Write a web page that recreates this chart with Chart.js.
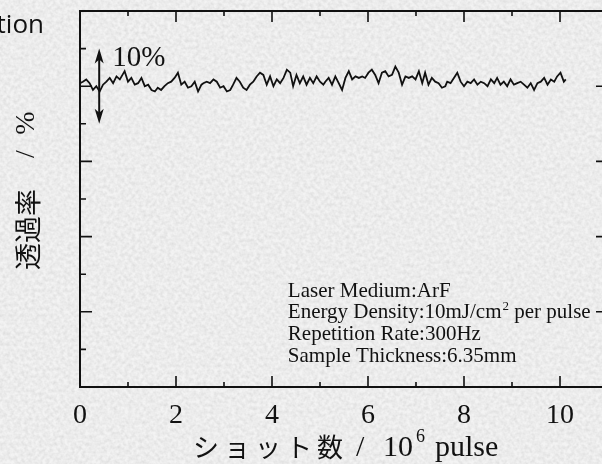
<!DOCTYPE html>
<html>
<head>
<meta charset="utf-8">
<script src="https://cdn.jsdelivr.net/npm/chart.js@4.4.1/dist/chart.umd.min.js"></script>
<style>
  html, body { margin: 0; padding: 0; overflow: hidden; width: 602px; height: 464px; }
  body {
    background-color: #e4e4e4;
    background-image: url("data:image/svg+xml;utf8,<svg xmlns='http://www.w3.org/2000/svg' width='602' height='464'><filter id='n'><feTurbulence type='fractalNoise' baseFrequency='0.28' numOctaves='2' seed='7'/><feColorMatrix values='0.5 0 0 0 0.64 0.5 0 0 0 0.64 0.5 0 0 0 0.64 0 0 0 0 0.55'/></filter><rect width='100%' height='100%' filter='url(%23n)'/></svg>");
  }
  #wrap { position: relative; width: 612px; height: 464px; }
</style>
</head>
<body>
<div id="wrap"><canvas id="chart"></canvas></div>
<script>
// shots (10^6 pulse) and transmission (%)
const shots = [
  0.00, 0.06, 0.13, 0.20, 0.27, 0.34, 0.41, 0.48, 0.55, 0.62, 0.69, 0.76, 0.83, 0.93, 1.00, 1.07, 1.14, 1.21, 1.28,
  1.35, 1.42, 1.49, 1.56, 1.62, 1.69, 1.76, 1.83, 1.90, 1.97, 2.04, 2.11, 2.18, 2.25, 2.32, 2.39, 2.46, 2.53,
  2.57, 2.64, 2.71, 2.78, 2.85, 2.92, 2.99, 3.06, 3.13, 3.19, 3.26, 3.33, 3.40, 3.47, 3.54, 3.61, 3.68, 3.75, 3.82,
  3.89, 3.96, 4.03, 4.10, 4.17, 4.24, 4.31, 4.38, 4.44, 4.51, 4.58, 4.65, 4.72, 4.79, 4.86, 4.93, 5.00, 5.07,
  5.11, 5.18, 5.25, 5.32, 5.39, 5.46, 5.53, 5.60, 5.67, 5.74, 5.81, 5.88, 5.94, 6.01, 6.08, 6.15, 6.22, 6.29, 6.36,
  6.43, 6.50, 6.57, 6.64, 6.71, 6.78, 6.85, 6.92, 6.99, 7.06, 7.13, 7.19, 7.26, 7.33, 7.40, 7.47, 7.54, 7.61,
  7.65, 7.72, 7.79, 7.86, 7.93, 8.00, 8.07, 8.14, 8.21, 8.28, 8.35, 8.42, 8.49, 8.56, 8.63, 8.69, 8.76, 8.83, 8.90,
  8.97, 9.04, 9.11, 9.18, 9.25, 9.32, 9.39, 9.46, 9.53, 9.60, 9.67, 9.74, 9.81, 9.88, 9.94, 10.01, 10.08, 10.12
];
const transmission = [
  90.4, 90.6, 90.9, 90.4, 89.5, 90.0, 89.3, 90.2, 90.6, 91.1, 90.4, 91.3, 90.9, 92.0, 90.6, 91.1, 90.2, 90.4, 91.1,
  90.0, 90.2, 89.5, 89.3, 89.8, 89.5, 90.0, 90.4, 90.6, 91.1, 91.8, 90.2, 90.6, 89.8, 90.0, 90.6, 89.3, 90.2,
  90.4, 90.6, 90.4, 90.9, 90.6, 89.8, 90.0, 89.3, 89.5, 90.2, 91.1, 90.6, 89.8, 89.5, 90.2, 90.6, 91.3, 91.8, 91.5,
  90.2, 91.3, 90.0, 90.9, 90.4, 91.1, 92.2, 91.8, 90.0, 91.5, 90.4, 91.3, 90.2, 91.1, 90.4, 91.3, 90.6, 90.2,
  90.6, 91.1, 90.2, 91.3, 90.4, 89.5, 91.1, 92.0, 90.9, 91.3, 91.1, 91.3, 91.1, 91.8, 92.2, 91.5, 90.4, 91.8, 92.0,
  91.3, 91.5, 92.6, 91.8, 90.2, 91.3, 91.1, 91.3, 90.9, 92.0, 90.4, 91.8, 90.2, 91.1, 90.6, 90.4, 89.8, 90.0,
  90.6, 90.4, 91.1, 91.8, 90.6, 90.0, 90.6, 90.4, 90.9, 90.2, 90.6, 90.4, 90.0, 90.9, 90.4, 91.1, 90.2, 90.6, 90.0,
  90.9, 90.2, 90.4, 90.6, 90.2, 89.8, 90.4, 89.5, 90.4, 90.6, 91.1, 90.2, 90.9, 90.6, 91.3, 91.8, 90.6, 90.9
];

const xLabelTicks = [0, 2, 4, 6, 8, 10];
const xMinorTicks = [1, 3, 5, 7, 9];
const yMajorTicks = [60, 70, 80, 90];
const yMinorTicks = [55, 65, 75, 85, 95];
const arrowSpan = [85, 95];   // the "10%" marker
const arrowAt = 0.4;

const conditions = ['Laser Medium:ArF', 'Energy Density:10mJ/cm', 'Repetition Rate:300Hz', 'Sample Thickness:6.35mm'];

const serif = '"Liberation Serif", "Times New Roman", "Noto Sans CJK JP", serif';
const ink = '#111';

const framePlugin = {
  id: 'frame',
  afterDraw(chart) {
    const { ctx, chartArea: a, scales: { x, y } } = chart;
    ctx.save();
    ctx.strokeStyle = ink;
    ctx.fillStyle = ink;

    // box
    ctx.lineWidth = 2;
    ctx.strokeRect(a.left, a.top, a.right - a.left, a.bottom - a.top);

    // inward ticks
    ctx.lineWidth = 1.6;
    ctx.beginPath();
    const xt = (list, len) => list.forEach(v => {
      const px = x.getPixelForValue(v);
      ctx.moveTo(px, a.bottom); ctx.lineTo(px, a.bottom - len);
      ctx.moveTo(px, a.top); ctx.lineTo(px, a.top + len);
    });
    xt(xLabelTicks, 11);
    xt(xMinorTicks, 5);
    const yt = (list, len) => list.forEach(v => {
      const py = y.getPixelForValue(v);
      ctx.moveTo(a.left, py); ctx.lineTo(a.left + len, py);
      ctx.moveTo(a.right, py); ctx.lineTo(a.right - len, py);
    });
    yt(yMajorTicks, 12);
    yt(yMinorTicks, 6);
    ctx.stroke();

    // double arrow for 10%
    const ax = x.getPixelForValue(arrowAt);
    const ay1 = y.getPixelForValue(arrowSpan[1]);
    const ay0 = y.getPixelForValue(arrowSpan[0]);
    ctx.lineWidth = 2;
    ctx.beginPath();
    ctx.moveTo(ax, ay1 + 6); ctx.lineTo(ax, ay0 - 6);
    ctx.stroke();
    const head = (tipY, dir) => {
      ctx.beginPath();
      ctx.moveTo(ax, tipY);
      ctx.lineTo(ax - 4.5, tipY + dir * 15);
      ctx.lineTo(ax, tipY + dir * 11);
      ctx.lineTo(ax + 4.5, tipY + dir * 15);
      ctx.closePath();
      ctx.fill();
    };
    head(ay1, 1);
    head(ay0, -1);

    ctx.font = '29px ' + serif;
    ctx.textBaseline = 'alphabetic';
    ctx.textAlign = 'left';
    ctx.fillText('10%', x.getPixelForValue(0.67), y.getPixelForValue(92.7));

    // measurement conditions
    const tx = x.getPixelForValue(4.33);
    const ty = y.getPixelForValue(62);
    conditions.forEach((line, i) => {
      const by = ty + i * 21.7;
      ctx.font = '21px ' + serif;
      ctx.fillText(line, tx, by);
      if (i === 1) {
        let w = ctx.measureText(line).width;
        ctx.font = '13px ' + serif;
        ctx.fillText('2', tx + w + 1, by - 8);
        w += ctx.measureText('2').width + 1;
        ctx.font = '21px ' + serif;
        ctx.fillText(' per pulse', tx + w, by);
      }
    });

    // y title
    ctx.save();
    ctx.translate(27, 270);
    ctx.rotate(-Math.PI / 2);
    ctx.textBaseline = 'middle';
    ctx.font = '27px "Noto Sans CJK JP", sans-serif';
    ctx.fillText('透過率', 0, 1);
    ctx.font = '28px ' + serif;
    ctx.textAlign = 'center';
    ctx.fillText('/', 116, 0);
    ctx.fillText('%', 147, 0);
    ctx.restore();

    // x title
    ctx.textBaseline = 'alphabetic';
    ctx.textAlign = 'left';
    ctx.font = '26px "Noto Sans CJK JP", sans-serif';
    Array.from('ショット数').forEach((c, i) => ctx.fillText(c, 193 + i * 31, 457));
    ctx.font = '30px ' + serif;
    ctx.fillText('/', 356, 456);
    ctx.fillText('10', 383, 456);
    ctx.fillText('pulse', 435, 456);
    ctx.font = '18px ' + serif;
    ctx.fillText('6', 416, 442);

    // cut-off heading at the top left
    ctx.font = '26px "Open Sans", "Noto Sans", sans-serif';
    ctx.textAlign = 'right';
    ctx.fillText('tion', 44, 33);

    ctx.restore();
  }
};

new Chart(document.getElementById('chart'), {
  type: 'line',
  data: {
    datasets: [{
      data: shots.map((s, i) => ({ x: s, y: transmission[i] })),
      borderColor: ink,
      borderWidth: 1.8,
      pointRadius: 0,
      tension: 0,
      fill: false
    }]
  },
  options: {
    responsive: true,
    maintainAspectRatio: false,
    animation: false,
    events: [],
    layout: { padding: { top: 11, right: 4, left: 0, bottom: 0 } },
    plugins: { legend: { display: false }, tooltip: { enabled: false } },
    scales: {
      x: {
        type: 'linear',
        min: 0,
        max: 11,
        grid: { display: false, drawTicks: false },
        border: { display: false },
        afterBuildTicks: s => { s.ticks = xLabelTicks.map(v => ({ value: v })); },
        ticks: { autoSkip: false, maxRotation: 0, padding: 12, color: ink, font: { family: serif, size: 28 } },
        afterFit: s => { s.height = 77; }
      },
      y: {
        min: 50,
        max: 100,
        ticks: { display: false },
        grid: { display: false, drawTicks: false },
        border: { display: false },
        afterFit: s => { s.width = 80; }
      }
    }
  },
  plugins: [framePlugin]
});
</script>
</body>
</html>
